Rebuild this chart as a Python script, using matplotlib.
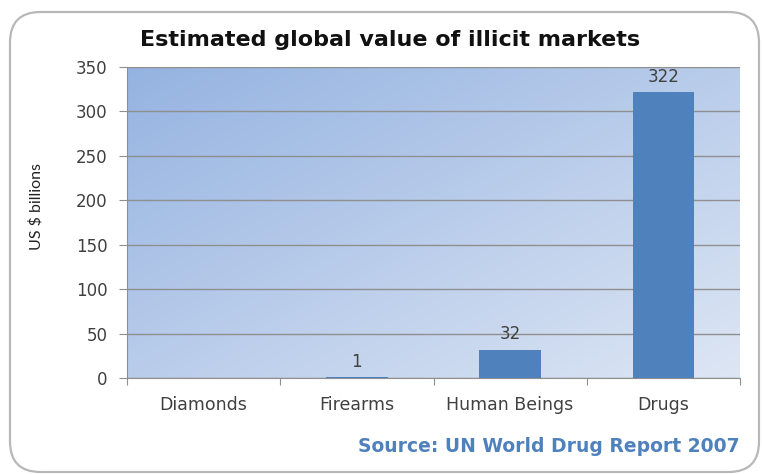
import numpy as np
import matplotlib
matplotlib.use('Agg')
import matplotlib.pyplot as plt
from matplotlib.patches import FancyBboxPatch
from matplotlib.colors import LinearSegmentedColormap

categories = ['Diamonds', 'Firearms', 'Human Beings', 'Drugs']
values = [0, 1, 32, 322]
yticks = [0, 50, 100, 150, 200, 250, 300, 350]

fig = plt.figure(figsize=(7.62, 4.74), dpi=100)
W, H = 762, 474

# rounded frame round the whole chart
frame = FancyBboxPatch((10 / W, 2 / H), 749 / W, 460 / H,
                       boxstyle='round,pad=0,rounding_size=0.04',
                       transform=fig.transFigure, fill=False,
                       edgecolor='#b8b8b8', lw=1.6, mutation_aspect=W / H)
fig.patches.append(frame)

ax = fig.add_axes([127 / W, 1 - 378 / H, 613 / W, 311 / H])

# diagonal gradient for the plot area
n = 200
gx, gy = np.meshgrid(np.linspace(0, 1, n), np.linspace(0, 1, n))
grad = (gx + gy) / 2
cmap = LinearSegmentedColormap.from_list('bg', ['#95b3e1', '#dde6f4'])
ax.imshow(grad, cmap=cmap, extent=[0, 1, 0, 1], transform=ax.transAxes,
          aspect='auto', zorder=0, interpolation='bicubic')

x = np.arange(len(categories))
ax.bar(x, values, width=0.4, color='#4f81bd', zorder=3)
for xi, v in zip(x, values):
    if v > 0:
        ax.text(xi, v + 7, str(v), ha='center', va='bottom',
                fontsize=12, family='DejaVu Sans', color='#404040', zorder=4)

ax.set_xlim(-0.5, len(categories) - 0.5)
ax.set_ylim(0, 350)
ax.set_yticks(yticks)
ax.set_yticklabels([str(t) for t in yticks], fontsize=12,
                   family='DejaVu Sans', color='#404040')
ax.yaxis.grid(True, color='#8f8f8f', lw=1, zorder=1)
ax.set_axisbelow(False)

ax.set_xticks(np.arange(-0.5, len(categories), 1.0))
ax.set_xticklabels([])
ax.set_xticks(x, minor=True)
ax.set_xticklabels(categories, minor=True, fontsize=12.5,
                   family='DejaVu Sans', color='#404040')
ax.tick_params(axis='x', which='minor', length=0, pad=13)
ax.tick_params(axis='x', which='major', length=5, color='#8f8f8f')
ax.tick_params(axis='y', length=6, color='#8f8f8f', pad=8)

for s in ['top', 'right']:
    ax.spines[s].set_visible(False)
for s in ['left', 'bottom']:
    ax.spines[s].set_color('#8f8f8f')

ax.set_ylabel('US $ billions', fontsize=11.5, family='Lato', color='#222222')
ax.yaxis.set_label_coords(-83 / 613, 1 - (206 - 67) / 311)

fig.text(390 / W, 1 - 40 / H, 'Estimated global value of illicit markets',
         ha='center', va='center', fontsize=16, fontweight='bold',
         family='DejaVu Sans', color='#111111')
fig.text(740 / W, 1 - 447 / H, 'Source: UN World Drug Report 2007',
         ha='right', va='center', fontsize=13.5, fontweight='bold',
         family='DejaVu Sans', color='#4f81bd')

fig.savefig('out.png', dpi=100)
